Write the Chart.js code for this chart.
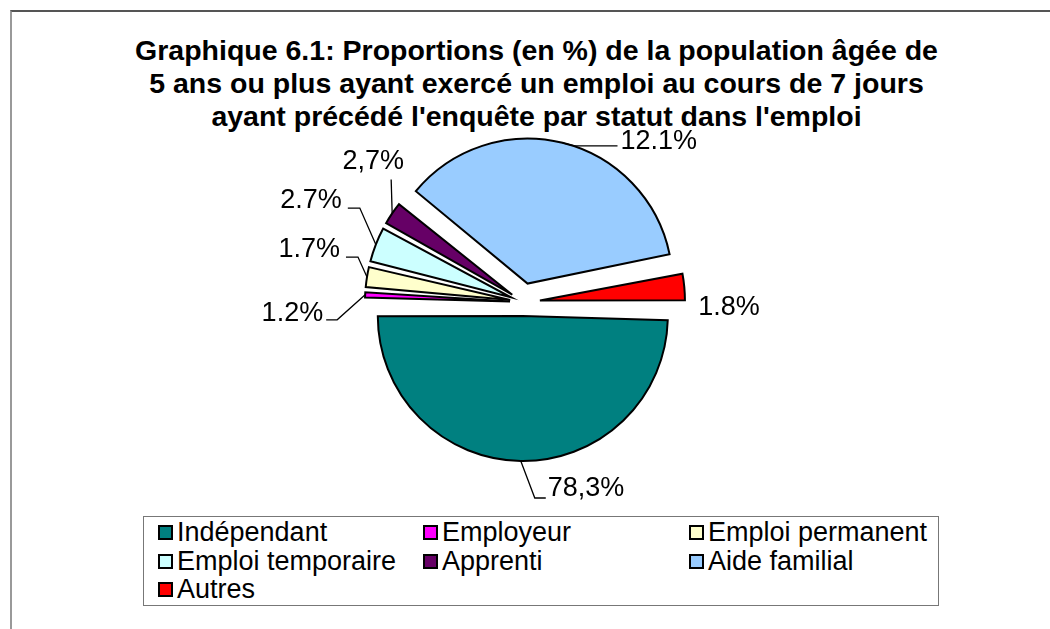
<!DOCTYPE html>
<html lang="fr">
<head>
<meta charset="utf-8">
<script src="https://cdn.jsdelivr.net/npm/chart.js@4.4.1/dist/chart.umd.min.js"></script>
<style>
  html, body { margin: 0; padding: 0; background: #fff; }
  body { width: 1050px; height: 629px; position: relative; overflow: hidden;
         font-family: "Liberation Sans", Arial, sans-serif; color: #000; }
  .frame { position: absolute; left: 10px; top: 10px; width: 1100px; height: 700px;
           border-top: 2px solid #555; border-left: 2px solid #999; }
  .title { position: absolute; left: 0; width: 1073px; top: 34px; text-align: center;
           font-weight: bold; font-size: 28.5px; line-height: 33px; }
  #chartWrap { position: absolute; left: 0; top: 0; width: 1050px; height: 629px; }
  .legend { position: absolute; left: 143px; top: 516px; width: 796px; height: 90px;
            border: 1px solid #777; box-sizing: border-box; background: #fff; }
  .legend-item { position: absolute; display: flex; align-items: center; font-size: 27px;
                 line-height: 29px; white-space: nowrap; }
  .legend-box { width: 11px; height: 11px; border: 2px solid #000; margin-right: 4px; }
</style>
</head>
<body>
<div class="frame"></div>
<div class="title">Graphique 6.1: Proportions (en %) de la population âgée de<br>5 ans ou plus ayant exercé un emploi au cours de 7 jours<br>ayant précédé l'enquête par statut dans l'emploi</div>
<div id="chartWrap"><canvas id="pie"></canvas></div>
<div class="legend" id="legend"></div>

<script>
/* ── DATA ── */
const categories = ['Indépendant', 'Employeur', 'Emploi permanent', 'Emploi temporaire',
                    'Apprenti', 'Aide familial', 'Autres'];
// slice sizes as drawn in the picture (%)
const sliceValues = [50.0, 1.0, 2.6, 4.2, 2.9, 35.9, 3.4];
// labels as printed on the picture
const labelTexts = ['78,3%', '1.2%', '1.7%', '2.7%', '2,7%', '12.1%', '1.8%'];

const colors  = ['#008080', '#FF00FF', '#FFFFCC', '#CCFFFF', '#660066', '#99CCFF', '#FF0000'];
const explode = [56, 52, 52, 52, 52, 76, 68];   // chart.js offset (moves slice by offset/4)
const PIE_R   = 145;

// leader line layout: elbow from arc point, horizontal tail, text offset
const leaders = [
  { ex: 14,  ey: 37,   h: 11,  tx: 2,   ty: -9,   align: 'left'   },
  { ex: -28, ey: 25,   h: -11, tx: -3,  ty: -6,   align: 'right'  },
  { ex: -9,  ey: -20,  h: -12, tx: -6,  ty: -7.5, align: 'right'  },
  { ex: -16, ey: -36.5,h: -12, tx: -6,  ty: -7.5, align: 'right'  },
  { ex: -1,  ey: -34,  h: 0,   tx: -18, ty: -18,  align: 'center' },
  { ex: 12,  ey: 3,    h: 43,  tx: 3,   ty: -4.5, align: 'left'   },
  { ex: 0,   ey: 0,    h: 0,   tx: 14,  ty: 21,   align: 'left', noLine: true }
];

/* ── keep every exploded slice at the same drawn radius ── */
const evenRadius = {
  id: 'evenRadius',
  afterDatasetUpdate(chart, args) {
    chart.getDatasetMeta(args.index).data.forEach(el => {
      const t   = (el.options.offset || 0) / 4;
      const fix = 1 - Math.sin(Math.min(Math.PI, el.circumference));
      el.outerRadius = PIE_R - t * fix;
    });
  }
};

/* ── percentage labels with leader lines ── */
const pieLabels = {
  id: 'pieLabels',
  afterDatasetsDraw(chart) {
    const ctx = chart.ctx;
    ctx.save();
    ctx.font = '27px "Liberation Sans", Arial, sans-serif';
    ctx.fillStyle = '#000';
    ctx.strokeStyle = '#000';
    ctx.lineWidth = 1.3;
    ctx.textBaseline = 'middle';
    chart.getDatasetMeta(0).data.forEach((el, i) => {
      const mid = (el.startAngle + el.endAngle) / 2;
      const t   = (el.options.offset || 0) / 4;
      const cx  = el.x + Math.cos(mid) * t;
      const cy  = el.y + Math.sin(mid) * t;
      const ax  = cx + Math.cos(mid) * PIE_R;
      const ay  = cy + Math.sin(mid) * PIE_R;
      const L   = leaders[i];
      const bx  = ax + L.ex, by = ay + L.ey;
      const tx  = bx + L.h;
      if (!L.noLine) {
        ctx.beginPath();
        ctx.moveTo(ax, ay);
        ctx.lineTo(bx, by);
        ctx.lineTo(tx, by);
        ctx.stroke();
      }
      ctx.textAlign = L.align;
      ctx.fillText(labelTexts[i], tx + L.tx, by + L.ty);
    });
    ctx.restore();
  }
};

new Chart(document.getElementById('pie'), {
  type: 'pie',
  data: {
    labels: categories,
    datasets: [{
      data: sliceValues,
      backgroundColor: colors,
      borderColor: '#000',
      borderWidth: 2,
      borderJoinStyle: 'miter',
      offset: explode,
      radius: PIE_R
    }]
  },
  options: {
    responsive: true,
    maintainAspectRatio: false,
    animation: false,
    rotation: 90.8,
    layout: { padding: { left: 200, right: 204, top: 150, bottom: 175 } },
    plugins: { legend: { display: false }, tooltip: { enabled: false }, title: { display: false } }
  },
  plugins: [evenRadius, pieLabels]
});

/* ── LEGEND ── */
const colX = [14, 279, 545];
const rowY = [1, 30, 58];
document.getElementById('legend').innerHTML = categories.map((c, i) =>
  `<div class="legend-item" style="left:${colX[i % 3]}px;top:${rowY[Math.floor(i / 3)]}px">
     <span class="legend-box" style="background:${colors[i]}"></span>${c}
   </div>`).join('');
</script>
</body>
</html>
